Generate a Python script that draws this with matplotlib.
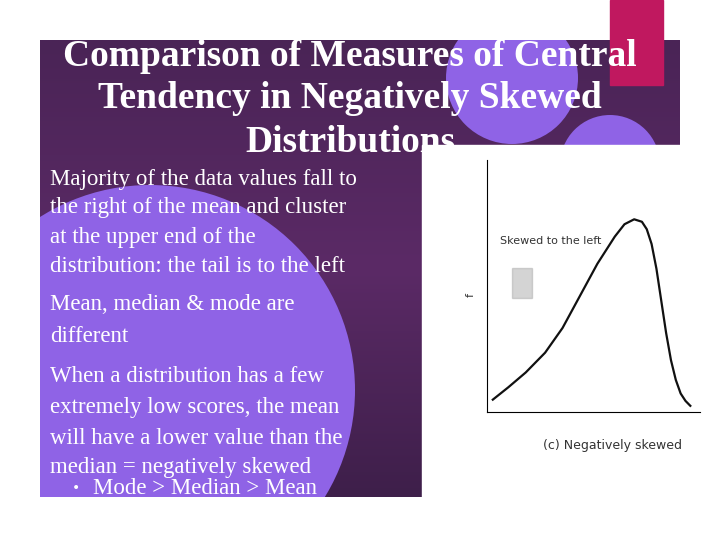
import matplotlib.pyplot as plt
from matplotlib.patches import Rectangle, Circle
from matplotlib.colors import LinearSegmentedColormap
import numpy as np

title_lines = ["Comparison of Measures of Central",
               "Tendency in Negatively Skewed",
               "Distributions"]
body_lines = ["Majority of the data values fall to",
              "the right of the mean and cluster",
              "at the upper end of the",
              "distribution: the tail is to the left",
              "Mean, median & mode are",
              "different",
              "When a distribution has a few",
              "extremely low scores, the mean",
              "will have a lower value than the",
              "median = negatively skewed"]
body_y = [180, 208, 238, 267, 304, 337, 376, 407, 438, 468]
bullet = "Mode > Median > Mean"

# negatively skewed curve (x 0..10.5, height 0..10)
curve_x = [0.1, 0.9, 1.8, 2.8, 3.7, 4.6, 5.5, 6.4, 6.9, 7.4, 7.8, 8.05, 8.3,
           8.55, 8.8, 9.05, 9.3, 9.55, 9.8, 10.05, 10.3]
curve_y = [0.3, 0.8, 1.4, 2.2, 3.2, 4.5, 5.8, 6.9, 7.4, 7.6, 7.5, 7.2, 6.6,
           5.6, 4.3, 3.0, 1.9, 1.1, 0.55, 0.25, 0.05]

W, H = 720, 539
fig = plt.figure(figsize=(7.2, 5.39), dpi=100)
ax = fig.add_axes([0, 0, 1, 1])
ax.set_xlim(0, W)
ax.set_ylim(H, 0)
ax.axis("off")

grad = np.linspace(0, 1, 256).reshape(-1, 1)
cmap = LinearSegmentedColormap.from_list("p", ["#4a2456", "#5b2a66", "#3e1f4a"])
ax.imshow(grad, extent=(40, 680, 497, 40), cmap=cmap, aspect="auto", zorder=1)
clip = Rectangle((40, 40), 640, 457, transform=ax.transData)
for c in [Circle((150, 390), 205), Circle((512, 78), 66), Circle((610, 165), 50)]:
    c.set_facecolor("#8f63e6")
    c.set_edgecolor("none")
    c.set_zorder(2)
    ax.add_patch(c)
    c.set_clip_path(clip)
ax.add_patch(Rectangle((610, 0), 53, 85, color="#c0185f", zorder=3))
ax.add_patch(Rectangle((422, 145), 298, 394, color="white", zorder=4))

for i, t in enumerate(title_lines):
    ax.text(350, 56 + i * 43, t, color="white", fontsize=27, fontweight="bold",
            family="Liberation Serif", ha="center", va="center", zorder=5)
for t, y in zip(body_lines, body_y):
    ax.text(50, y, t, color="white", fontsize=16.5, family="Liberation Serif",
            va="center", zorder=5)
ax.text(72, 488, "\u2022", color="white", fontsize=10, va="center", zorder=5)
ax.text(93, 488, bullet, color="white", fontsize=16.5, family="Liberation Serif",
        va="center", zorder=5)

# sketch panel
ax.text(500, 241, "Skewed to the left", fontsize=8, color="#333", va="center",
        family="Liberation Sans Narrow", zorder=5)
ax.text(543, 446, "(c) Negatively skewed", fontsize=9, color="#333", va="center",
        family="Liberation Sans Narrow", zorder=5)
ax.text(466, 295, "f", fontsize=8, color="#333", rotation=90, va="center", zorder=5)
ax.add_patch(Rectangle((512, 268), 20, 30, color="#aaaaaa", zorder=5, alpha=0.5))

cx = fig.add_axes([487 / W, 1 - 412 / H, 213 / W, 252 / H], zorder=6)
cx.plot(curve_x, curve_y, color="#111", lw=1.6)
cx.set_xlim(-0.2, 10.8)
cx.set_ylim(-0.2, 10.0)
cx.set_xticks([])
cx.set_yticks([])
for s in ["top", "right"]:
    cx.spines[s].set_visible(False)
cx.patch.set_alpha(0)

fig.savefig("out.png", dpi=100)
